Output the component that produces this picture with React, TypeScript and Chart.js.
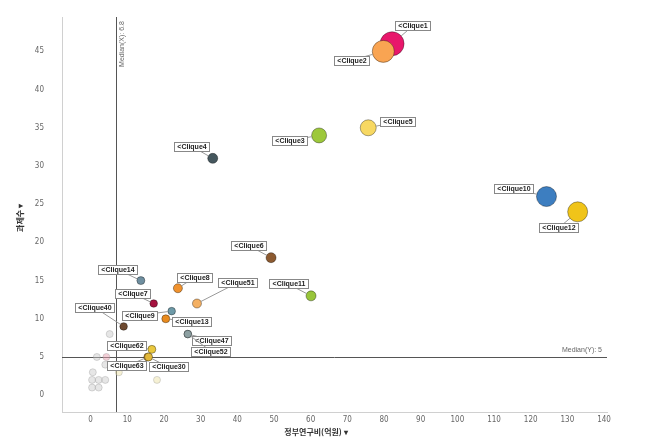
import React, { useEffect, useRef } from "react";
import { Chart, registerables } from "chart.js";
Chart.register(...registerables);

// ---- data ----
const cliqueNames = [
  "Clique1", "Clique2", "Clique3", "Clique4", "Clique5", "Clique10", "Clique12",
  "Clique6", "Clique11", "Clique14", "Clique8", "Clique51", "Clique7", "Clique9",
  "Clique13", "Clique40", "Clique47", "Clique52", "Clique62", "Clique63", "Clique30",
];
const cliqueFunding = [
  82.2, 79.8, 62.3, 33.3, 75.7, 124.3, 132.8,
  49.2, 60.1, 13.7, 23.8, 29.0, 17.2, 22.1,
  20.5, 9.0, 26.5, 26.5, 16.7, 15.6, 15.8,
];
const cliqueProjects = [
  46, 45, 34, 31, 35, 26, 24,
  18, 13, 15, 14, 12, 12, 11,
  10, 9, 8, 8, 6, 5, 5,
];
const cliqueSize = [
  12, 11, 7.5, 5, 8, 10, 10,
  5, 5, 4, 4.5, 4.5, 3.8, 3.8,
  4, 3.8, 3.8, 3.8, 4, 4, 4,
];
const cliqueColors = [
  "#E8176B", "#F9A452", "#9DC83B", "#45575E", "#F7D862", "#3D7EC0", "#F0C419",
  "#8C5A30", "#98C53A", "#6F8FA0", "#F0922E", "#F4B063", "#A5123F", "#6E9AA8",
  "#E98B1E", "#6E4A30", "#8DA0A2", "#8DA0A2", "#EAC83E", "#C9902E", "#E2B83A",
];
const fadedFunding = [5.2, 1.7, 4.3, 4.0, 0.6, 0.4, 2.2, 4.0, 0.4, 2.2, 7.7, 18.1];
const fadedProjects = [8, 5, 5, 4, 3, 2, 2, 2, 1, 1, 3, 2];
const fadedColors = [
  "rgba(200,200,200,0.45)", "rgba(200,200,200,0.45)", "rgba(232,160,175,0.5)",
  "rgba(200,200,200,0.45)", "rgba(200,200,200,0.45)", "rgba(200,200,200,0.45)",
  "rgba(200,200,200,0.45)", "rgba(200,200,200,0.45)", "rgba(200,200,200,0.45)",
  "rgba(200,200,200,0.45)", "rgba(235,225,160,0.45)", "rgba(235,225,160,0.45)",
];
const xTicks = [0, 10, 20, 30, 40, 50, 60, 70, 80, 90, 100, 110, 120, 130, 140];
const yTicks = [0, 5, 10, 15, 20, 25, 30, 35, 40, 45];
const medianX = 6.8;
const medianY = 5;
const xTitle = "정부연구비(억원) ▾";
const yTitle = "과제수 ▾";

// label box offsets (px, box centre relative to point)
const labelOffsets: [number, number][] = [
  [21, -18], [-32, 9], [-29, 5], [-21, -12], [29, -6], [-33, -8], [-19, 16],
  [-22, -12], [-23, -12], [-23, -11], [17, -11], [41, -21], [-21, -10], [-32, 4],
  [26, 3], [-29, -19], [24, 6], [23, 17], [-25, -4], [-21, 9], [20, 10],
];

const overlayPlugin = {
  id: "overlay",
  beforeDatasetsDraw(chart: any) {
    const { ctx, chartArea, scales } = chart;
    const xs = scales.x, ys = scales.y;
    ctx.save();
    ctx.strokeStyle = "#555";
    ctx.lineWidth = 1;
    const mx = Math.round(xs.getPixelForValue(medianX)) + 0.5;
    ctx.beginPath();
    ctx.moveTo(mx, chartArea.top);
    ctx.lineTo(mx, chartArea.bottom);
    ctx.stroke();
    const my = Math.round(ys.getPixelForValue(medianY)) + 0.5;
    ctx.beginPath();
    ctx.moveTo(chartArea.left, my);
    ctx.lineTo(chartArea.right, my);
    ctx.stroke();
    ctx.fillStyle = "#666";
    ctx.font = "7px 'Liberation Sans Narrow', 'Liberation Sans', sans-serif";
    ctx.textAlign = "right";
    ctx.textBaseline = "alphabetic";
    ctx.fillText("Median(Y): " + medianY, chartArea.right - 5, my - 6);
    ctx.translate(mx + 6, chartArea.top + 27);
    ctx.rotate(-Math.PI / 2);
    ctx.textAlign = "center";
    ctx.textBaseline = "middle";
    ctx.fillText("Median(X): " + medianX, 0, 0);
    ctx.restore();
  },
  afterDatasetsDraw(chart: any) {
    const { ctx } = chart;
    const meta = chart.getDatasetMeta(0);
    ctx.save();
    ctx.font = "bold 7px 'Liberation Sans', sans-serif";
    ctx.textBaseline = "middle";
    ctx.textAlign = "center";
    meta.data.forEach((el: any, i: number) => {
      const [dx, dy] = labelOffsets[i];
      const px = el.x, py = el.y;
      const cx = px + dx, cy = py + dy;
      const text = "<" + cliqueNames[i];
      const w = ctx.measureText(text).width + 6;
      const h = 9;
      const len = Math.hypot(dx, dy);
      const r = cliqueSize[i];
      ctx.strokeStyle = "#999";
      ctx.lineWidth = 1;
      ctx.beginPath();
      ctx.moveTo(px + (dx / len) * r, py + (dy / len) * r);
      ctx.lineTo(cx, cy);
      ctx.stroke();
      const bx = Math.round(cx - w / 2) + 0.5;
      const by = Math.round(cy - h / 2) + 0.5;
      ctx.fillStyle = "#fff";
      ctx.fillRect(bx, by, Math.round(w), h);
      ctx.strokeStyle = "#888";
      ctx.strokeRect(bx, by, Math.round(w), h);
      ctx.fillStyle = "#222";
      ctx.fillText(text, bx + Math.round(w) / 2, by + h / 2 + 0.5);
    });
    ctx.restore();
  },
  afterDraw(chart: any) {
    const { ctx } = chart;
    ctx.save();
    ctx.fillStyle = "#333";
    ctx.font = "bold 8px 'Noto Sans CJK KR', sans-serif";
    ctx.textAlign = "center";
    ctx.textBaseline = "middle";
    ctx.fillText(xTitle, 316, 432);
    ctx.translate(20, 218);
    ctx.rotate(-Math.PI / 2);
    ctx.fillText(yTitle, 0, 0);
    ctx.restore();
  },
};

export default function App() {
  const ref = useRef<HTMLCanvasElement | null>(null);
  useEffect(() => {
    document.body.style.margin = "0";
    const canvas = ref.current;
    if (!canvas) return;
    const tickFont = { family: "'Liberation Sans Narrow', 'DejaVu Sans Condensed', sans-serif", size: 8 };
    const chart = new Chart(canvas, {
      type: "bubble",
      data: {
        datasets: [
          {
            data: cliqueNames.map((_, i) => ({ x: cliqueFunding[i], y: cliqueProjects[i], r: cliqueSize[i] })),
            backgroundColor: cliqueColors,
            borderColor: "rgba(0,0,0,0.35)",
            borderWidth: 1,
            order: 0,
          },
          {
            data: fadedFunding.map((v, i) => ({ x: v, y: fadedProjects[i], r: 3.5 })),
            backgroundColor: fadedColors,
            borderColor: "rgba(150,150,150,0.35)",
            borderWidth: 1,
            order: 1,
          },
        ],
      },
      options: {
        animation: false,
        responsive: true,
        maintainAspectRatio: false,
        layout: { padding: { left: 0, right: 65, top: 17, bottom: 0 } },
        plugins: { legend: { display: false }, tooltip: { enabled: false } },
        events: [],
        scales: {
          x: {
            type: "linear",
            min: -7.8,
            max: 140.8,
            afterBuildTicks: (s: any) => { s.ticks = xTicks.map((v) => ({ value: v })); },
            afterFit: (s: any) => { s.height = 36; s.paddingLeft = 0; s.paddingRight = 0; },
            grid: { display: false, drawTicks: false },
            border: { display: true, color: "#d0d0d0" },
            ticks: { color: "#666", font: tickFont, padding: 3, maxRotation: 0 },
          },
          y: {
            type: "linear",
            min: -2.2,
            max: 49.5,
            afterBuildTicks: (s: any) => { s.ticks = yTicks.map((v) => ({ value: v })); },
            afterFit: (s: any) => { s.width = 62; s.paddingTop = 0; s.paddingBottom = 0; },
            grid: { display: false, drawTicks: false },
            border: { display: true, color: "#d0d0d0" },
            ticks: { color: "#666", font: tickFont, padding: 18 },
          },
        },
      },
      plugins: [overlayPlugin],
    } as any);
    return () => chart.destroy();
  }, []);
  return (
    <div style={{ position: "fixed", left: 0, top: 0, width: 672, height: 448, background: "#fff" }}>
      <canvas ref={ref} />
    </div>
  );
}
